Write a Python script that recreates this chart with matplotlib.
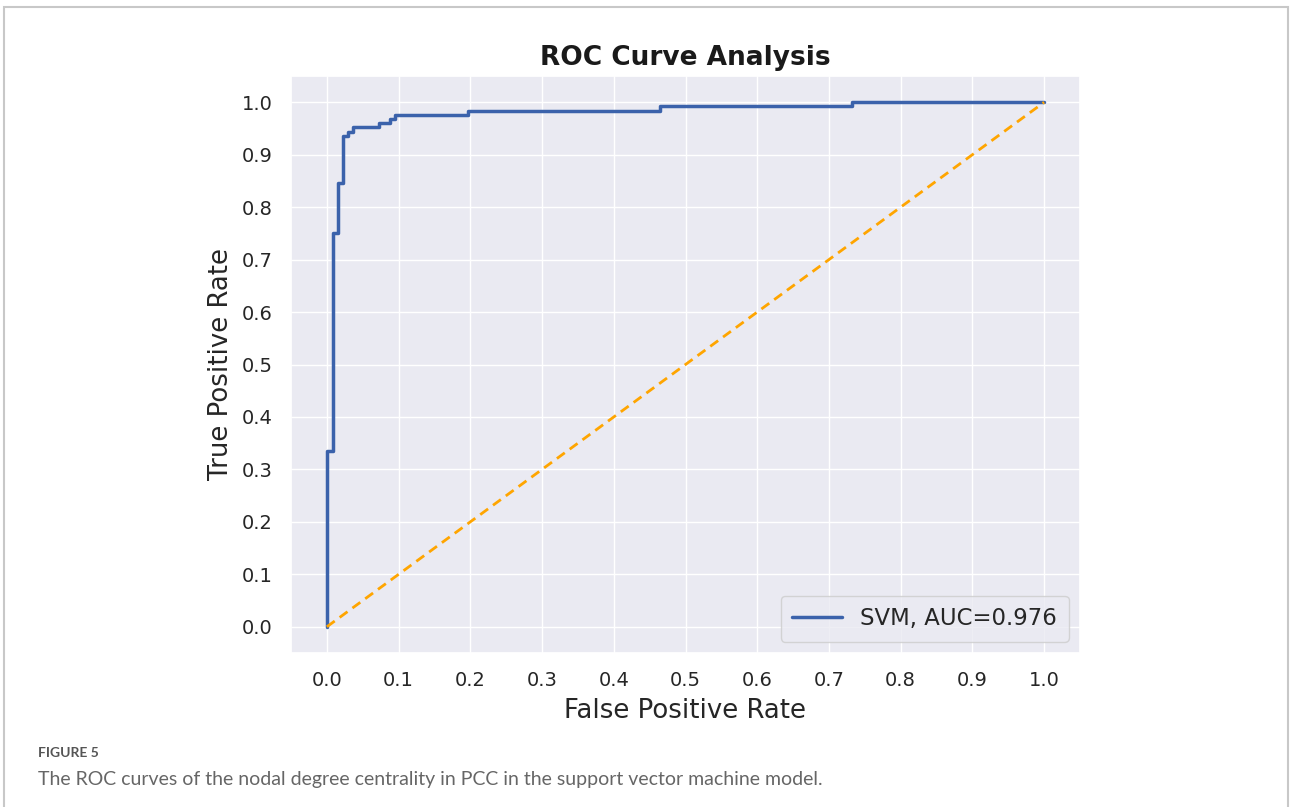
import matplotlib
matplotlib.use("Agg")
import matplotlib.pyplot as plt
import seaborn as sns
from matplotlib.patches import Rectangle

sns.set_theme(style="darkgrid")
plt.rcParams['font.family'] = ['DejaVu Sans']

# ROC step points (FPR, TPR)
fpr = [0.0, 0.0, 0.008, 0.008, 0.015, 0.015, 0.023, 0.023, 0.030, 0.030,
       0.037, 0.037, 0.073, 0.073, 0.088, 0.088, 0.095, 0.095, 0.197, 0.197,
       0.465, 0.465, 0.732, 0.732, 1.0]
tpr = [0.0, 0.336, 0.336, 0.750, 0.750, 0.846, 0.846, 0.936, 0.936, 0.944,
       0.944, 0.952, 0.952, 0.960, 0.960, 0.968, 0.968, 0.976, 0.976, 0.984,
       0.984, 0.992, 0.992, 1.0, 1.0]
diag = [0.0, 1.0]
ticks = [0.0, 0.1, 0.2, 0.3, 0.4, 0.5, 0.6, 0.7, 0.8, 0.9, 1.0]
auc_label = "SVM, AUC=0.976"

fig = plt.figure(figsize=(12.9, 8.07), dpi=100)
fig.patch.set_facecolor("white")
ax = fig.add_axes([291/1290, 1 - 653/807, (1080-291)/1290, (653-76)/807])

ax.plot(fpr, tpr, color="#3b62ab", lw=2.5, label=auc_label)
ax.plot(diag, diag, color="orange", lw=2.0, ls=(0, (3.5, 2.2)))
ax.set_xticks(ticks)
ax.set_yticks(ticks)
ax.set_xticklabels([f"{t:.1f}" for t in ticks])
ax.set_yticklabels([f"{t:.1f}" for t in ticks])
ax.tick_params(axis="both", labelsize=14, colors="#262626", pad=7)
ax.set_xlabel("False Positive Rate", fontsize=18.7, color="#262626", labelpad=6)
ax.set_ylabel("True Positive Rate", fontsize=18.7, color="#262626", labelpad=6)
ax.set_title("ROC Curve Analysis", fontsize=19, fontweight="bold", color="#1a1a1a", pad=8)
leg = ax.legend(loc="lower right", fontsize=16.4, handlelength=2.2, borderpad=0.5)

# outer frame
fig.patches.append(Rectangle((4/1290, -0.05), (1288-4)/1290, 1.05 - 7/807,
                             transform=fig.transFigure, fill=False,
                             edgecolor="#c8c8c8", lw=1.5))

fig.text(38/1290, 1 - 753/807, "FIGURE 5", fontsize=10, color="#555555",
         family="Lato", va="center", ha="left", fontweight="bold")
fig.text(38/1290, 1 - 779/807,
         "The ROC curves of the nodal degree centrality in PCC in the support vector machine model.",
         fontsize=14, color="#666666", family="Lato", va="center", ha="left")

fig.savefig("out.png", dpi=100, facecolor="white")
